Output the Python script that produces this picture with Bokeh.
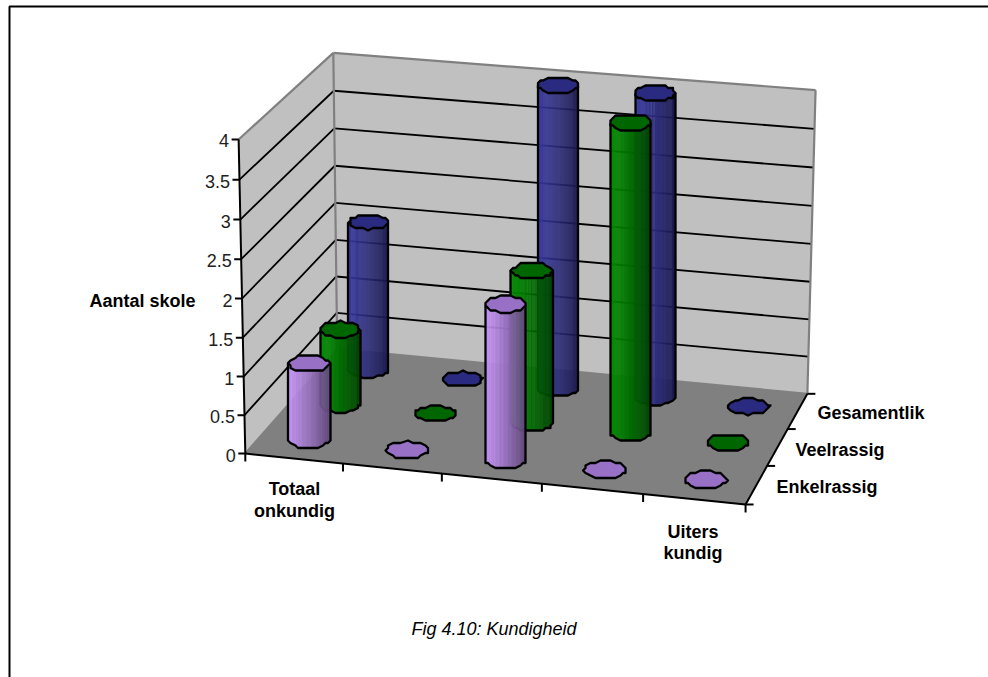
import numpy as np
from bokeh.core.properties import value
from bokeh.embed import file_html
from bokeh.models import Range1d
from bokeh.plotting import figure
from bokeh.resources import INLINE

# Chart content
kundigheid_slots = ["Totaal onkundig", "", "", "", "Uiters kundig"]
enkelrassig = [1, 0, 2, 0, 0]
veelrassig = [1, 0, 2, 4, 0]
gesamentlik = [2, 0, 4, 4, 0]
series_names = ["Enkelrassig", "Veelrassig", "Gesamentlik"]
z_ticks = [0, 0.5, 1, 1.5, 2, 2.5, 3, 3.5, 4]
z_tick_labels = ["0", "0.5", "1", "1.5", "2", "2.5", "3", "3.5", "4"]

# Side colour (lit edge) and cap colour per series
side_colors = [(204, 153, 255), (0, 146, 0), (60, 60, 165)]
cap_colors = ["#9870C6", "#006600", "#2A2A80"]

W, H = 988, 677
Z_MAX = 4
N_CAT = len(kundigheid_slots)
N_DEPTH = len(series_names)

# Perspective camera solved from where the plot box corners land on the page:
# (category fraction, depth fraction, height fraction) -> page pixels
box_world = [(0, 0, 0), (1, 0, 0), (1, 1, 0), (0, 1, 0), (0, 0, 1), (0, 1, 1), (1, 1, 1)]
box_page = [(245, 452), (745, 505), (807, 392), (336.5, 350), (238, 139), (333, 52), (815, 90)]


def solve_camera(world, page):
    rows = []
    for (a, b, c), (px, py) in zip(world, page):
        px, py = px / 1000, py / 1000
        rows.append([a, b, c, 1, 0, 0, 0, 0, -px * a, -px * b, -px * c, -px])
        rows.append([0, 0, 0, 0, a, b, c, 1, -py * a, -py * b, -py * c, -py])
    return np.linalg.svd(np.array(rows))[2][-1].reshape(3, 4)


CAM = solve_camera(box_world, box_page)


def project(u, v, z):
    """Category fraction, depth fraction and axis value to page pixels."""
    u, v, z = np.broadcast_arrays(np.asarray(u, float), np.asarray(v, float), np.asarray(z, float) / Z_MAX)
    pts = np.stack([u, v, z, np.ones_like(u, dtype=float)], axis=-1) @ CAM.T
    return pts[..., 0] / pts[..., 2] * 1000, pts[..., 1] / pts[..., 2] * 1000


p = figure(width=W, height=H, x_range=Range1d(0, W), y_range=Range1d(H, 0),
           output_backend="svg", toolbar_location=None, min_border=0,
           outline_line_color=None, background_fill_color="white")
p.axis.visible = False
p.grid.visible = False


def poly(corners, color):
    pts = [project(*c) for c in corners]
    p.patch([float(q[0]) for q in pts], [float(q[1]) for q in pts], fill_color=color, line_color=None)


def seg(a, b, color="black", width=1.8):
    xa, ya = project(*a)
    xb, yb = project(*b)
    p.line([float(xa), float(xb)], [float(ya), float(yb)], line_color=color, line_width=width)


# Outer frame around the chart area
p.line([9, 9, W], [H, 6, 6], line_color="black", line_width=2)

# Walls and floor
poly([(0, 0, 0), (0, 1, 0), (0, 1, Z_MAX), (0, 0, Z_MAX)], "#C0C0C0")
poly([(0, 1, 0), (1, 1, 0), (1, 1, Z_MAX), (0, 1, Z_MAX)], "#C0C0C0")
poly([(0, 0, 0), (1, 0, 0), (1, 1, 0), (0, 1, 0)], "#808080")

for z in z_ticks[1:-1]:
    seg((0, 0, z), (0, 1, z))
    seg((0, 1, z), (1, 1, z))
for a, b in [((0, 0, Z_MAX), (0, 1, Z_MAX)), ((0, 1, Z_MAX), (1, 1, Z_MAX)), ((1, 1, Z_MAX), (1, 1, 0)),
             ((0, 1, Z_MAX), (0, 1, 0)), ((0, 0, 0), (0, 1, 0)), ((0, 1, 0), (1, 1, 0))]:
    seg(a, b, "#808080", 2.2)

# Cylinder footprint in category/depth fractions
R_U, R_V = 0.042, 0.074
STEP = 2.5  # the outline is snapped to a coarse raster, which gives the rims their bumps
SEGMENTS = 24
angles = np.linspace(0, 2 * np.pi, SEGMENTS + 1)


def rim(uc, vc, z, height):
    """Upright ellipse at level z; the column stays plumb, so x is averaged over its height."""
    _, cy = project(uc, vc, z)
    cx = (project(uc, vc, 0)[0] + project(uc, vc, height)[0]) / 2
    x0, _ = project(uc - R_U, vc, 0)
    x1, _ = project(uc + R_U, vc, 0)
    _, y0 = project(uc, vc - R_V, 0)
    _, y1 = project(uc, vc + R_V, 0)
    rx, ry = abs(x1 - x0) / 2, abs(y1 - y0) / 2
    x = cx + rx * np.cos(angles)
    y = cy + ry * np.sin(angles)
    return np.round(x / STEP) * STEP, np.round(y / STEP) * STEP


def draw_cylinder(uc, vc, val, side, cap):
    bx, by = rim(uc, vc, 0, val)
    tx, ty = rim(uc, vc, val, val)
    if val > 0:
        # Shaded body built from thin upright strips, lit from the left
        front = np.arange(SEGMENTS // 2 + 1)
        fine = np.linspace(0, len(front) - 1, 60)
        gx, gy = np.interp(fine, front, bx[front]), np.interp(fine, front, by[front])
        hx, hy = np.interp(fine, front, tx[front]), np.interp(fine, front, ty[front])
        xl, xr = bx.min(), bx.max()
        xs, ys, cols = [], [], []
        for k in range(59):
            t = ((gx[k] + gx[k + 1]) / 2 - xl) / (xr - xl)
            shade = (1.0 - 0.52 * t ** 1.2) * (0.96 + 0.04 * (k % 4 == 0))
            cols.append("#%02x%02x%02x" % tuple(int(c * shade) for c in side))
            xs.append([gx[k], gx[k + 1], hx[k + 1], hx[k]])
            ys.append([gy[k], gy[k + 1], hy[k + 1], hy[k]])
        p.patches(xs, ys, fill_color=cols, fill_alpha=0.95, line_color=cols, line_width=0.4, line_alpha=0.95)
        ox = [tx[front[-1]]] + list(bx[front][::-1]) + [tx[0]]
        oy = [ty[front[-1]]] + list(by[front][::-1]) + [ty[0]]
        p.line(ox, oy, line_color="black", line_width=2.3, line_join="round")
    p.patch(tx, ty, fill_color=cap, line_color="black", line_width=2.3, line_join="round")


all_series = [enkelrassig, veelrassig, gesamentlik]
for d in range(N_DEPTH - 1, -1, -1):
    for c in range(N_CAT):
        draw_cylinder((c + 0.5) / N_CAT, (d + 0.5) / N_DEPTH, all_series[d][c], side_colors[d], cap_colors[d])

# Axes lines in front of everything
seg((0, 0, 0), (0, 0, Z_MAX), "black", 2)
seg((0, 0, 0), (1, 0, 0), "black", 2)
seg((1, 0, 0), (1, 1, 0), "black", 2)

FONT = value("Liberation Sans")


def label(x, y, text, align="center", bold=True, italic=False, size="18px", color="black"):
    style = "bold" if bold else ("italic" if italic else "normal")
    p.text([x], [y], text=[text], text_align=align, text_baseline="middle", text_font=FONT,
           text_font_size=size, text_font_style=style, text_color=color)


for z, lab in zip(z_ticks, z_tick_labels):
    x, y = project(0, 0, z)
    p.line([float(x) - 7, float(x)], [float(y), float(y)], line_color="black", line_width=2)
    label(float(x) - 9.5, float(y) + 1.5, lab, align="right", bold=False, color="#222222")

for c in range(N_CAT + 1):
    x, y = project(c / N_CAT, 0, 0)
    p.line([float(x), float(x)], [float(y), float(y) + 8], line_color="black", line_width=2)

for d in range(N_DEPTH + 1):
    x, y = project(1, d / N_DEPTH, 0)
    p.line([float(x), float(x) + 8], [float(y), float(y)], line_color="black", line_width=2)

label(142, 300, "Aantal skole")
for word, ypos in zip(kundigheid_slots[0].split(), [488, 510]):
    label(294, ypos, word)
for word, ypos in zip(kundigheid_slots[-1].split(), [531, 552]):
    label(692.5, ypos, word)
for name, (xpos, ypos) in zip(series_names, [(776, 486), (795, 449), (817, 412)]):
    label(xpos, ypos, name, align="left")

label(493.5, 628, "Fig 4.10: Kundigheid", bold=False, italic=True)

open("out.html", "w").write(file_html(p, INLINE))
